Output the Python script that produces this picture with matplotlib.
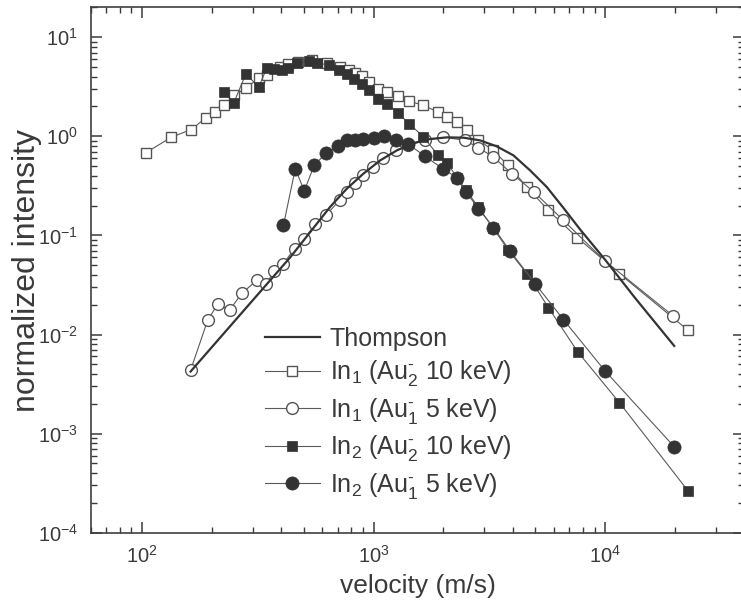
import numpy as np
import matplotlib
matplotlib.use('Agg')
import matplotlib.pyplot as plt
from matplotlib.ticker import LogLocator, NullFormatter

#fonts: arial-like, also inside math text (sub/superscripts)
plt.rcParams['font.family'] = ['Liberation Sans', 'DejaVu Sans']
plt.rcParams['mathtext.fontset'] = 'custom'
plt.rcParams['mathtext.rm'] = 'Liberation Sans'
plt.rcParams['mathtext.it'] = 'Liberation Sans:italic'
plt.rcParams['mathtext.default'] = 'regular'

ink = '#3a3a3a'
plt.rcParams['text.color'] = ink
plt.rcParams['axes.labelcolor'] = ink
plt.rcParams['xtick.color'] = ink
plt.rcParams['ytick.color'] = ink

#values: velocity (m/s) and normalized intensity
thompson_v = [162, 265, 436, 650, 767, 904, 1068, 1261, 1486, 1753, 2072,
              2443, 2884, 3404, 4018, 4742, 5597, 6600, 7795, 9990, 13450,
              19890]
thompson_i = [0.00423, 0.0158, 0.0599, 0.1946, 0.2965, 0.42, 0.571, 0.721,
              0.854, 0.938, 0.975, 0.968, 0.909, 0.791, 0.642, 0.453, 0.308,
              0.19, 0.115, 0.057, 0.0235, 0.00767]

#In1 (Au2- 10 keV), open squares
in1_au2_v = [104, 134, 163, 189, 207, 227, 249, 281, 319, 346, 395, 425, 470,
             540, 630, 718, 780, 833, 890, 960, 1050, 1148, 1273, 1429, 1642,
             1905, 2084, 2288, 2527, 2837, 3273, 3822, 4587, 5688, 7590,
             11520, 22860]
in1_au2_i = [0.684, 0.98, 1.17, 1.54, 1.77, 2.05, 2.58, 3.06, 3.86, 4.11,
             4.99, 5.4, 5.6, 5.9, 5.5, 4.99, 4.69, 4.33, 4.02, 3.52, 3.02,
             2.79, 2.52, 2.26, 2.05, 1.75, 1.56, 1.39, 1.15, 0.925, 0.72,
             0.509, 0.308, 0.179, 0.095, 0.0412, 0.0110]

#In1 (Au1- 5 keV), open circles
in1_au1_v = [162, 192, 212, 239, 270, 314, 343, 372, 408, 456, 502, 560, 624,
             716, 767, 833, 904, 993, 1103, 1252, 1415, 1670, 2003, 2485,
             2837, 3293, 3954, 4932, 6600, 9990, 19680]
in1_au1_i = [0.00436, 0.0139, 0.0202, 0.0176, 0.0262, 0.0353, 0.0321, 0.0437,
             0.052, 0.0737, 0.0929, 0.129, 0.16, 0.23, 0.274, 0.337, 0.404,
             0.489, 0.608, 0.721, 0.81, 0.909, 0.98, 0.909, 0.767, 0.617,
             0.42, 0.274, 0.142, 0.0552, 0.0154]

#In2 (Au2- 10 keV), filled squares
in2_au2_v = [226, 249, 281, 319, 346, 370, 402, 429, 467, 524, 569, 639, 712,
             767, 819, 890, 960, 1050, 1148, 1273, 1429, 1642, 1905, 2084,
             2288, 2510, 2837, 3273, 3822, 4587, 5688, 7620, 11520, 22860]
in2_au2_i = [2.79, 2.18, 4.27, 3.13, 4.91, 4.8, 4.69, 4.91, 5.47, 5.73, 5.47,
             5.27, 4.69, 4.27, 3.81, 3.4, 2.9, 2.39, 2.13, 1.71, 1.34, 0.98,
             0.64, 0.537, 0.383, 0.285, 0.193, 0.12, 0.0708, 0.0412, 0.0187,
             0.00668, 0.00206, 0.000263]

#In2 (Au1- 5 keV), filled circles
in2_au1_v = [408, 459, 502, 554, 624, 705, 767, 833, 904, 1000, 1111, 1247,
             1415, 1670, 1991, 2288, 2510, 2837, 3293, 3887, 4984, 6600, 9990,
             19890]
in2_au1_i = [0.126, 0.471, 0.281, 0.509, 0.678, 0.796, 0.909, 0.925, 0.946,
             0.96, 1.0, 0.925, 0.83, 0.627, 0.471, 0.383, 0.274, 0.186, 0.12,
             0.0697, 0.0327, 0.01416, 0.0043, 0.000736]

labels = ['Thompson',
          r'In$_1$ (Au$_2^{\text{-}}$ 10 keV)',
          r'In$_1$ (Au$_1^{\text{-}}$ 5 keV)',
          r'In$_2$ (Au$_2^{\text{-}}$ 10 keV)',
          r'In$_2$ (Au$_1^{\text{-}}$ 5 keV)']

fig = plt.figure(figsize=(7.41, 6.11), dpi=100)
#right spine sits just past the picture edge, like in the original
ax = fig.add_axes([0.1224, 0.1281, 0.8823, 0.8599])

line_c = '#5a5a5a'
fill_c = '#333333'

h1, = ax.plot(in1_au2_v, in1_au2_i, '-s', color=line_c, lw=0.8, ms=7.8,
              mfc='white', mec='#555555', mew=1.0, zorder=3)
h2, = ax.plot(in1_au1_v, in1_au1_i, '-o', color=line_c, lw=0.8, ms=8.5,
              mfc='white', mec='#555555', mew=1.0, zorder=3)
h3, = ax.plot(in2_au2_v, in2_au2_i, '-s', color=line_c, lw=0.8, ms=7.8,
              mfc=fill_c, mec=fill_c, mew=0.5, zorder=4)
h4, = ax.plot(in2_au1_v, in2_au1_i, '-o', color=line_c, lw=0.8, ms=9.5,
              mfc=fill_c, mec=fill_c, mew=0.5, zorder=4)
h0, = ax.plot(thompson_v, thompson_i, '-', color='#333333', lw=1.6, zorder=5)

ax.set_xscale('log')
ax.set_yscale('log')
ax.set_xlim(60, 40000)
ax.set_ylim(1e-4, 20)

for axis in (ax.xaxis, ax.yaxis):
    axis.set_major_locator(LogLocator(base=10, numticks=20))
    axis.set_minor_locator(LogLocator(base=10, subs=np.arange(2, 10), numticks=100))
    axis.set_minor_formatter(NullFormatter())

ax.tick_params(which='both', direction='in', top=True, right=True,
               labelsize=14.5, pad=9)
ax.tick_params(which='major', length=8, width=1.1)
ax.tick_params(which='minor', length=4.5, width=1.0)
for s in ax.spines.values():
    s.set_linewidth(1.2)
    s.set_color('#404040')

ax.set_xlabel('velocity (m/s)', fontsize=19)
ax.set_ylabel('normalized intensity', fontsize=23)
ax.xaxis.set_label_coords(0.5, -0.078)
ax.yaxis.set_label_coords(-0.075, 0.5)

ax.legend([h0, h1, h2, h3, h4], labels, loc='upper left',
          bbox_to_anchor=(0.2666, 0.392), frameon=False, fontsize=18,
          handlelength=2.2, handletextpad=0.4, labelspacing=0.3,
          borderpad=0, borderaxespad=0)

fig.savefig('out.png', dpi=100)
